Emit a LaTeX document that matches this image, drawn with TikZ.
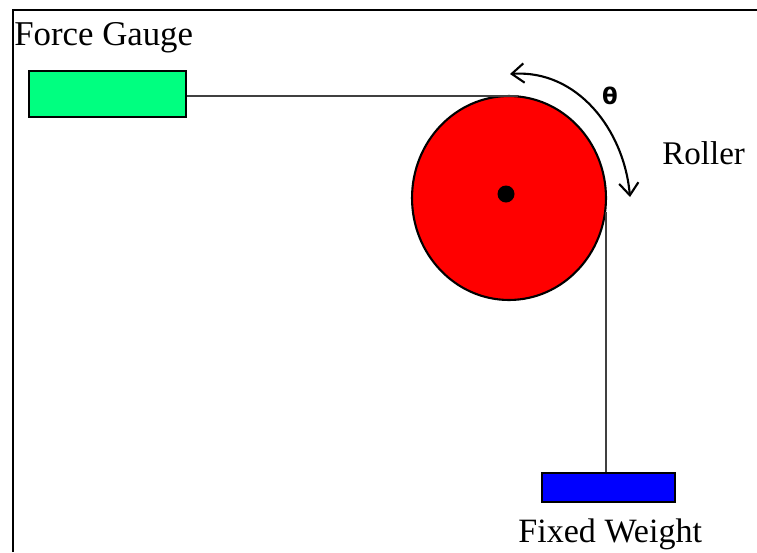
\documentclass[tikz,border=0pt]{standalone}
\usepackage{fontspec}
\setmainfont{Liberation Serif}
\newfontfamily\anglefont{DejaVu Sans}
\usepackage{tikz}
\usetikzlibrary{positioning, arrows.meta, shapes.geometric}
\definecolor{gaugegreen}{RGB}{0,255,128}
\definecolor{weightblue}{RGB}{0,0,255}

\begin{document}
\begin{tikzpicture}[x=0.02cm, y=-0.02cm, >={Straight Barb[length=7pt,width=11pt]},
    block/.style={draw, line width=1.2pt, inner sep=0pt},
    caption/.style={font=\fontsize{19.4pt}{22pt}\selectfont, inner sep=0pt},
    rope/.style={line width=1.2pt, draw=black!75}]
    \useasboundingbox (0,0) rectangle (757,552);
    % Frame, top and left only
    \coordinate (framel) at (13,552);
    \coordinate (framec) at (13,10);
    \coordinate (framer) at (757,10);
    \draw[line width=1.3pt] (framel) -- (framec) -- (framer);

    % Roller and axle
    \node[block, ellipse, fill=red, minimum width=3.88cm, minimum height=4.08cm] (roller) at (509,198) {};
    \node[circle, fill=black, inner sep=0pt, minimum size=0.34cm] (axle) at (506,194) {};

    % Gauge and weight
    \node[block, fill=gaugegreen, minimum width=3.14cm, minimum height=0.92cm] (gauge) at (107.5,94) {};
    \node[block, fill=weightblue, minimum width=2.66cm, minimum height=0.58cm] (weight) at (608.5,487.5) {};

    % Labels
    \node[caption, font=\fontsize{19.8pt}{22pt}\selectfont, anchor=west] (gaugetext) at (14,38) {Force Gauge};
    \node[caption, anchor=west] (weighttext) at (518,534) {Fixed Weight};
    \node[caption, font=\fontsize{18.8pt}{22pt}\selectfont, anchor=west] (rollertext) at (662,153) {Roller};
    \node[font=\anglefont\bfseries\fontsize{13pt}{13pt}\selectfont, inner sep=0pt] (angle) at (610,96) {θ};

    % Rope
    \coordinate (ropetop) at (518,96);
    \coordinate (ropeside) at (606,212);
    \path[rope]
        (gauge.east |- ropetop) edge (ropetop)
        (ropeside) edge (ropeside |- weight.north);

    % Angle arrow
    \coordinate (arrowa) at (510,74);
    \coordinate (arrowb) at (630,197);
    \draw[<->, line width=1.2pt] (arrowa) to[out=4, in=95] (arrowb);
\end{tikzpicture}
\end{document}
